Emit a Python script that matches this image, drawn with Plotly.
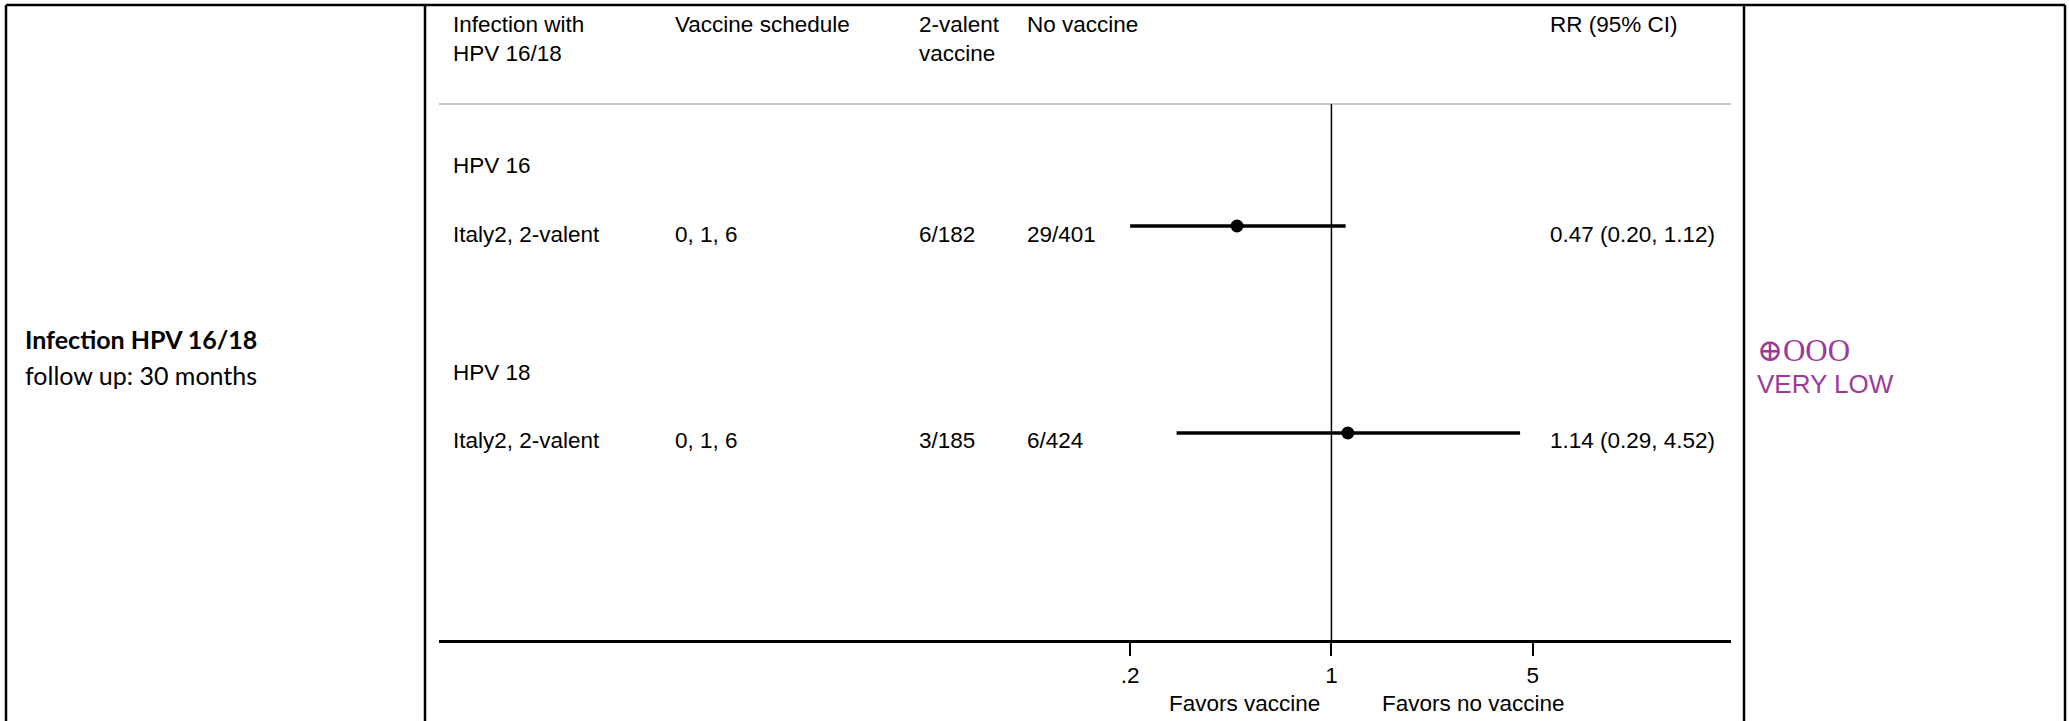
import plotly.graph_objects as go

W, H = 2069, 721

# ---------------- data ----------------
header_line1 = ["Infection with", "Vaccine schedule", "2-valent", "No vaccine", "RR (95% CI)"]
header_line2 = ["HPV 16/18", "", "vaccine", "", ""]
subgroups = ["HPV 16", "HPV 18"]
studies = ["Italy2, 2-valent", "Italy2, 2-valent"]
schedules = ["0, 1, 6", "0, 1, 6"]
vaccine_events = ["6/182", "3/185"]
novaccine_events = ["29/401", "6/424"]
rr = [0.47, 1.14]
rr_low = [0.20, 0.29]
rr_high = [1.12, 4.52]
tick_vals = [0.2, 1, 5]
tick_text = [".2", "1", "5"]
favors = ["Favors vaccine", "Favors no vaccine"]
outcome_title = "Infection HPV 16/18"
outcome_sub = "follow up: 30 months"
certainty_symbols = "⊕OOO"
certainty_label = "VERY LOW"

# ---------------- layout helpers ----------------
def px(x):
    return x / W

def py(y):
    return 1 - y / H

SANS = "Liberation Sans, Arial, sans-serif"
FS = 22.5
PURPLE = "#9c3a9a"

col_x = [451, 673, 917, 1025, 1548]
header_y = [25, 54]
subgroup_y = [165, 372]
study_y = [226, 433]
text_dy = 8
plot_left, plot_right, plot_top, plot_bottom = 439, 1731, 104, 640

fig = go.Figure()

# CI lines and point estimates
for i in range(len(rr)):
    fig.add_trace(go.Scatter(
        x=[rr_low[i], rr_high[i]], y=[study_y[i], study_y[i]],
        mode="lines", line=dict(color="black", width=3.5),
        showlegend=False, hoverinfo="skip"))
fig.add_trace(go.Scatter(
    x=rr, y=study_y, mode="markers",
    marker=dict(color="black", size=13, symbol="circle"),
    showlegend=False))

ann = []
def text(x, y, s, size=FS, color="black", family=SANS, xanchor="left"):
    ann.append(dict(x=px(x), y=py(y), xref="paper", yref="paper", text=s,
                    showarrow=False, xanchor=xanchor, yanchor="middle",
                    font=dict(family=family, size=size, color=color)))

for j, (a, b) in enumerate(zip(header_line1, header_line2)):
    text(col_x[j], header_y[0], a)
    if b:
        text(col_x[j], header_y[1], b)

for i in range(len(rr)):
    text(col_x[0], subgroup_y[i], subgroups[i])
    ty = study_y[i] + text_dy
    text(col_x[0], ty, studies[i])
    text(col_x[1], ty, schedules[i])
    text(col_x[2], ty, vaccine_events[i])
    text(col_x[3], ty, novaccine_events[i])
    text(col_x[4], ty, f"{rr[i]:.2f} ({rr_low[i]:.2f}, {rr_high[i]:.2f})")

text(1322, 703, favors[0], xanchor="right")
text(1380, 703, favors[1])

# left / right cells
LATO = "Lato, Source Sans Pro, sans-serif"
text(23, 339, f"<b>{outcome_title}</b>", size=25, family=LATO)
text(23, 375, outcome_sub, size=25, family=LATO)
text(1755, 350, certainty_symbols, size=31, color=PURPLE,
     family="Liberation Serif, DejaVu Serif, serif")
text(1755, 384, certainty_label, size=26, color=PURPLE,
     family="Liberation Sans, Arial, sans-serif")

shapes = []
# header separator (gray)
shapes.append(dict(type="line", xref="paper", yref="paper",
                   x0=px(plot_left), x1=px(plot_right), y0=py(plot_top), y1=py(plot_top),
                   line=dict(color="#c8c8c8", width=2)))
# reference line at RR = 1
shapes.append(dict(type="line", xref="x", yref="paper", x0=1, x1=1,
                   y0=py(plot_bottom), y1=py(plot_top),
                   line=dict(color="black", width=1.5)))
# table borders
bw = 2.5
shapes.append(dict(type="line", xref="paper", yref="paper", x0=px(6), x1=px(2065),
                   y0=py(5), y1=py(5), line=dict(color="black", width=bw)))
for xv in [6, 425, 1744, 2065]:
    shapes.append(dict(type="line", xref="paper", yref="paper", x0=px(xv), x1=px(xv),
                       y0=py(5), y1=py(H + 5), line=dict(color="black", width=bw)))

fig.update_layout(
    width=W, height=H,
    margin=dict(l=0, r=0, t=0, b=0),
    paper_bgcolor="white", plot_bgcolor="white",
    showlegend=False,
    xaxis=dict(type="log", domain=[px(plot_left), px(plot_right)],
               range=[-3.099, 1.3875],
               showline=True, linecolor="black", linewidth=3,
               ticks="outside", ticklen=13, tickwidth=1.5, tickcolor="black",
               tickvals=tick_vals, ticktext=tick_text,
               tickfont=dict(family=SANS, size=FS, color="black"),
               showgrid=False, zeroline=False, fixedrange=True),
    yaxis=dict(domain=[py(plot_bottom), py(plot_top)], range=[plot_bottom, plot_top],
               visible=False, showgrid=False, zeroline=False, fixedrange=True),
    annotations=ann, shapes=shapes,
)

fig.write_html("out.html", config={"displayModeBar": False},
               post_script="document.body.style.margin='0';document.body.style.overflow='hidden';")
